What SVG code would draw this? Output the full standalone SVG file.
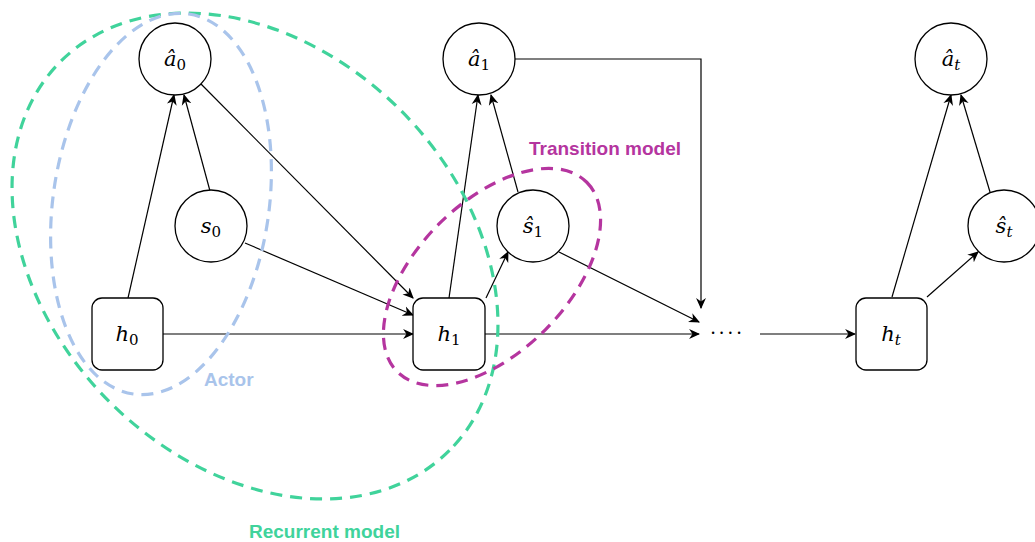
<svg xmlns="http://www.w3.org/2000/svg" width="1035" height="542" viewBox="0 0 1035 542">
<style>
.node{fill:#fff;stroke:#000;stroke-width:1.3}
.m{font-family:"DejaVu Serif","Liberation Serif",serif;font-style:italic;font-size:21px;fill:#000;text-anchor:middle}
.sub{font-size:15px;font-style:normal}
.subi{font-size:15px;font-style:italic}
.edge{fill:none;stroke:#000;stroke-width:1.2}
.grp{fill:none;stroke-width:3.2;stroke-dasharray:12 8}
.lbl{font-family:"Liberation Sans",Arial,sans-serif;font-weight:bold;font-size:19px}
</style>
<defs>
<marker id="ah" viewBox="0 0 10 10" refX="9" refY="5" markerWidth="11" markerHeight="11" markerUnits="userSpaceOnUse" orient="auto">
<path d="M0,0.5 L10,5 L0,9.5 L3,5 Z" fill="#000"/>
</marker>
</defs>
<rect width="1035" height="542" fill="#fff"/>
<g id="connectors">
<line class="edge" x1="128" y1="298" x2="174" y2="95" marker-end="url(#ah)"/>
<line class="edge" x1="210" y1="191" x2="184" y2="95" marker-end="url(#ah)"/>
<line class="edge" x1="201" y1="84" x2="413" y2="298" marker-end="url(#ah)"/>
<line class="edge" x1="245" y1="243" x2="413" y2="315" marker-end="url(#ah)"/>
<line class="edge" x1="163" y1="334" x2="413" y2="334" marker-end="url(#ah)"/>
<line class="edge" x1="449" y1="298" x2="478" y2="95" marker-end="url(#ah)"/>
<line class="edge" x1="518" y1="192" x2="491" y2="95" marker-end="url(#ah)"/>
<line class="edge" x1="486" y1="298" x2="508" y2="252" marker-end="url(#ah)"/>
<line class="edge" x1="559" y1="252" x2="699" y2="322" marker-end="url(#ah)"/>
<line class="edge" x1="485" y1="334" x2="699" y2="334" marker-end="url(#ah)"/>
<polyline class="edge" points="515,59 701,59 701,308" marker-end="url(#ah)"/>
<line class="edge" x1="760" y1="334" x2="855" y2="334" marker-end="url(#ah)"/>
<line class="edge" x1="892" y1="297" x2="951" y2="95" marker-end="url(#ah)"/>
<line class="edge" x1="990" y1="192" x2="961" y2="95" marker-end="url(#ah)"/>
<line class="edge" x1="927" y1="297" x2="978" y2="252" marker-end="url(#ah)"/>
</g>
<g id="dots"><text x="727" y="340" font-family="Liberation Serif,serif" font-size="20" text-anchor="middle" fill="#000" letter-spacing="2">····</text></g>
<g id="a0"><circle class="node" cx="175" cy="59" r="36"/><text class="m" x="175" y="66">â<tspan class="sub" dy="4">0</tspan></text></g>
<g id="s0"><circle class="node" cx="211" cy="226" r="36"/><text class="m" x="211" y="233">s<tspan class="sub" dy="4">0</tspan></text></g>
<g id="h0"><rect class="node" x="92" y="298" width="71" height="72" rx="10"/><text class="m" x="127" y="341">h<tspan class="sub" dy="4">0</tspan></text></g>
<g id="a1"><circle class="node" cx="479" cy="59" r="36"/><text class="m" x="479" y="66">â<tspan class="sub" dy="4">1</tspan></text></g>
<g id="s1"><circle class="node" cx="533" cy="226" r="36"/><text class="m" x="533" y="233">ŝ<tspan class="sub" dy="4">1</tspan></text></g>
<g id="h1"><rect class="node" x="413" y="298" width="72" height="72" rx="10"/><text class="m" x="449" y="341">h<tspan class="sub" dy="4">1</tspan></text></g>
<g id="at"><circle class="node" cx="951" cy="59" r="36"/><text class="m" x="951" y="66">â<tspan class="subi" dy="4">t</tspan></text></g>
<g id="st"><circle class="node" cx="1004" cy="226" r="36"/><text class="m" x="1004" y="233">ŝ<tspan class="subi" dy="4">t</tspan></text></g>
<g id="ht"><rect class="node" x="856" y="298" width="71" height="72" rx="10"/><text class="m" x="891" y="341">h<tspan class="subi" dy="4">t</tspan></text></g>
<g id="recurrent-model">
<ellipse class="grp" stroke="#40D39B" cx="255" cy="256" rx="275" ry="206" transform="rotate(45 255 256)"/>
<text class="lbl" fill="#40D39B" x="249" y="538">Recurrent model</text>
</g>
<g id="actor">
<ellipse class="grp" stroke="#A9C4EB" cx="161" cy="204" rx="108" ry="192" transform="rotate(8.3 161 204)"/>
<text class="lbl" fill="#A9C4EB" x="204" y="386">Actor</text>
</g>
<g id="transition-model">
<ellipse class="grp" stroke="#B5359F" cx="492" cy="277" rx="134" ry="75" transform="rotate(-45 492 277)"/>
<text class="lbl" fill="#B5359F" x="529" y="155">Transition model</text>
</g>
</svg>
